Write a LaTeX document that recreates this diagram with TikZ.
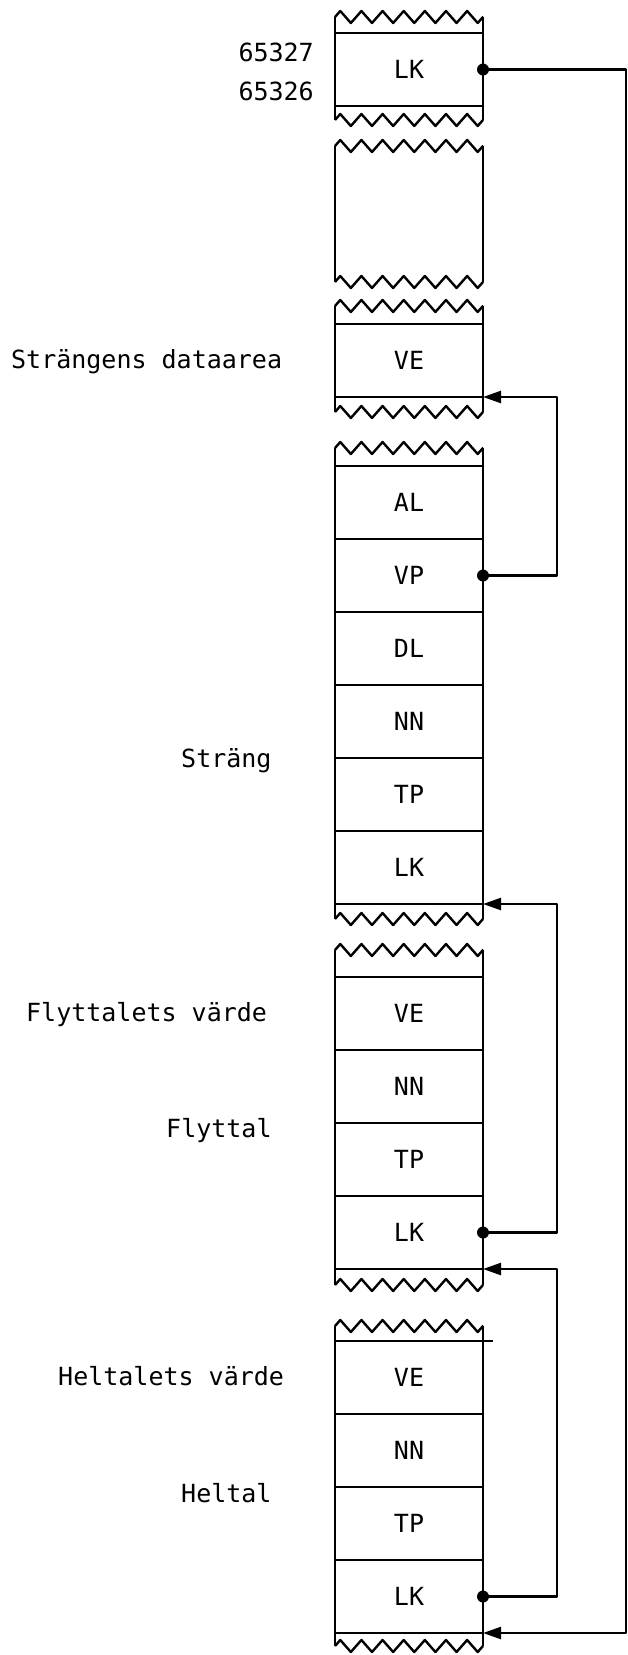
\documentclass[tikz,border=0pt]{standalone}
\usepackage{fontspec}
\usepackage{tikz}
\usetikzlibrary{arrows.meta,decorations.pathmorphing,positioning}
\newfontfamily\typewriter{DejaVu Sans Mono}

\begin{document}
\begin{tikzpicture}[x=1pt, y=-1pt, line width=2.4pt, line join=round,
    cell/.style={draw, minimum width=148pt, minimum height=73pt, outer sep=0pt, inner sep=0pt,
        font=\typewriter\fontsize{25}{30}\selectfont},
    tag/.style={anchor=west, inner sep=0pt, text height=17.5pt, text depth=0pt,
        font=\typewriter\fontsize{25}{30}\selectfont},
    torn/.style={decorate, decoration={zigzag, segment length=21.14pt, amplitude=6pt}},
    link/.style={-{Triangle[length=18pt, width=12pt]}}]
    \useasboundingbox (0,0) rectangle (628,1655);

    % Memory blocks with torn edges
    \foreach \ytop/\ybot in {17/120, 146/282, 306/412, 448/919, 950/1285, 1326/1646} {
        \draw[torn] (335,\ytop) -- (483,\ytop);
        \draw[torn] (335,\ybot) -- (483,\ybot);
        \draw (335,\ytop) -- (335,\ybot);
        \draw (483,\ytop) -- (483,\ybot);
    }

    % Top link word
    \node[cell] (alk) at (409,69.5) {LK};
    \node[tag, anchor=east] (adrhi) at (315,53) {65327};
    \node[tag, anchor=east] (adrlo) at (315,92) {65326};

    % String data area
    \node[cell] (cve) at (409,360.5) {VE};
    \node[tag] (cname) at (10,360) {Strängens dataarea};

    % String
    \node[cell] (sal) at (409,502.5) {AL};
    \node[cell, below=0pt of sal] (svp) {VP};
    \node[cell, below=0pt of svp] (sdl) {DL};
    \node[cell, below=0pt of sdl] (snn) {NN};
    \node[cell, below=0pt of snn] (stp) {TP};
    \node[cell, below=0pt of stp] (slk) {LK};
    \node[tag] (sname) at (180,759) {Sträng};

    % Floating point number
    \node[cell] (fve) at (409,1013.5) {VE};
    \node[cell, below=0pt of fve] (fnn) {NN};
    \node[cell, below=0pt of fnn] (ftp) {TP};
    \node[cell, below=0pt of ftp] (flk) {LK};
    \node[tag] (fvalue) at (25,1013) {Flyttalets värde};
    \node[tag] (fname) at (165,1129) {Flyttal};

    % Integer
    \node[cell] (hve) at (409,1377.5) {VE};
    \node[cell, below=0pt of hve] (hnn) {NN};
    \node[cell, below=0pt of hnn] (htp) {TP};
    \node[cell, below=0pt of htp] (hlk) {LK};
    \draw (hve.north east) -- ++(10,0);
    \node[tag] (hvalue) at (57,1377) {Heltalets värde};
    \node[tag] (hname) at (180,1494) {Heltal};

    % Links
    \draw[link] (alk.east) -- ++(143,0) |- (hlk.south east);
    \draw[link] (svp.east) -- ++(74,0) |- (cve.south east);
    \draw[link] (flk.east) -- ++(74,0) |- (slk.south east);
    \draw[link] (hlk.east) -- ++(74,0) |- (flk.south east);
    \foreach \n in {alk,svp,flk,hlk}
        \fill (\n.east) circle (6pt);
\end{tikzpicture}
\end{document}
